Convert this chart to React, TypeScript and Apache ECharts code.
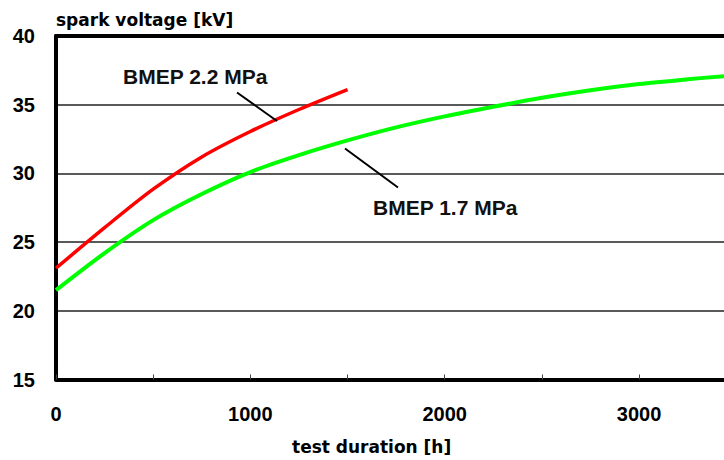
import React, { useEffect, useRef } from "react";
import * as echarts from "echarts";

const redHours = [0, 250, 500, 750, 1000, 1250, 1500];
const redValues = [23.1, 26.05, 28.85, 31.2, 33.05, 34.65, 36.1];
const greenHours = [0, 250, 500, 750, 1000, 1250, 1500, 1750, 2000, 2250, 2500, 2750, 3000, 3250, 3437];
const greenValues = [21.5, 24.2, 26.6, 28.5, 30.1, 31.33, 32.4, 33.35, 34.15, 34.85, 35.5, 36.05, 36.5, 36.85, 37.08];
const yTicks = [15, 20, 25, 30, 35, 40];
const xMax = 3437;
const yLabel = "spark voltage [kV]";
const xLabel = "test duration [h]";
const redName = "BMEP 2.2 MPa";
const greenName = "BMEP 1.7 MPa";

export default function App() {
  const ref = useRef<HTMLDivElement>(null);
  useEffect(() => {
    if (!ref.current) return;
    const chart = echarts.init(ref.current, null, { renderer: "svg" });
    const labelFont = { fontFamily: "Liberation Sans", fontWeight: "bold" as const, fontSize: 20, color: "#000" };
    chart.setOption({
      animation: false,
      backgroundColor: "#fff",
      grid: { left: 56, top: 36, right: 0, bottom: 80.5, containLabel: false },
      xAxis: [
        {
          type: "value",
          min: 0,
          max: xMax,
          interval: 500,
          axisLine: { show: true, lineStyle: { color: "#000", width: 4 } },
          axisTick: { show: true, inside: true, length: 5, lineStyle: { color: "#444", width: 1 } },
          axisLabel: {
            ...labelFont,
            margin: 24,
            showMaxLabel: false,
            formatter: (v: number) => (v % 1000 === 0 ? String(v) : ""),
          },
          splitLine: { show: false },
        },
        {
          type: "value",
          position: "top",
          min: 0,
          max: xMax,
          interval: 500,
          axisLine: { show: true, lineStyle: { color: "#000", width: 4 } },
          axisTick: { show: false },
          axisLabel: { show: false },
          splitLine: { show: false },
        },
      ],
      yAxis: {
        type: "value",
        min: yTicks[0],
        max: yTicks[yTicks.length - 1],
        interval: 5,
        axisLine: { show: true, lineStyle: { color: "#000", width: 4 } },
        axisTick: { show: false },
        axisLabel: { ...labelFont, margin: 21 },
        splitLine: { show: true, lineStyle: { color: "#222", width: 1.5 } },
      },
      series: [
        {
          name: redName,
          type: "line",
          smooth: 0.3,
          showSymbol: false,
          data: redHours.map((h, i) => [h, redValues[i]]),
          lineStyle: { color: "#ff0000", width: 3.5 },
          z: 3,
        },
        {
          name: greenName,
          type: "line",
          smooth: 0.3,
          showSymbol: false,
          data: greenHours.map((h, i) => [h, greenValues[i]]),
          lineStyle: { color: "#00ff00", width: 4 },
          z: 3,
        },
      ],
      graphic: [
        {
          type: "text",
          x: 56,
          y: 20,
          style: { text: yLabel, fontFamily: "DejaVu Sans", fontWeight: "bold", fontSize: 17, fill: "#000", verticalAlign: "middle" },
        },
        {
          type: "text",
          x: 292,
          y: 447,
          style: { text: xLabel, fontFamily: "DejaVu Sans", fontWeight: "bold", fontSize: 17, fill: "#000", verticalAlign: "middle" },
        },
        {
          type: "text",
          x: 123,
          y: 76,
          style: { text: redName, fontFamily: "Liberation Sans", fontWeight: "bold", fontSize: 21, fill: "#111", verticalAlign: "middle" },
        },
        {
          type: "text",
          x: 373,
          y: 207,
          style: { text: greenName, fontFamily: "Liberation Sans", fontWeight: "bold", fontSize: 21, fill: "#111", verticalAlign: "middle" },
        },
        {
          type: "line",
          shape: { x1: 237, y1: 92.5, x2: 277, y2: 121 },
          style: { stroke: "#000", lineWidth: 2 },
          z: 10,
        },
        {
          type: "line",
          shape: { x1: 345, y1: 148.5, x2: 398, y2: 187.5 },
          style: { stroke: "#000", lineWidth: 2 },
          z: 10,
        },
      ],
    });
    return () => chart.dispose();
  }, []);
  return <div ref={ref} style={{ position: "fixed", left: 0, top: 0, width: 724, height: 460 }} />;
}
